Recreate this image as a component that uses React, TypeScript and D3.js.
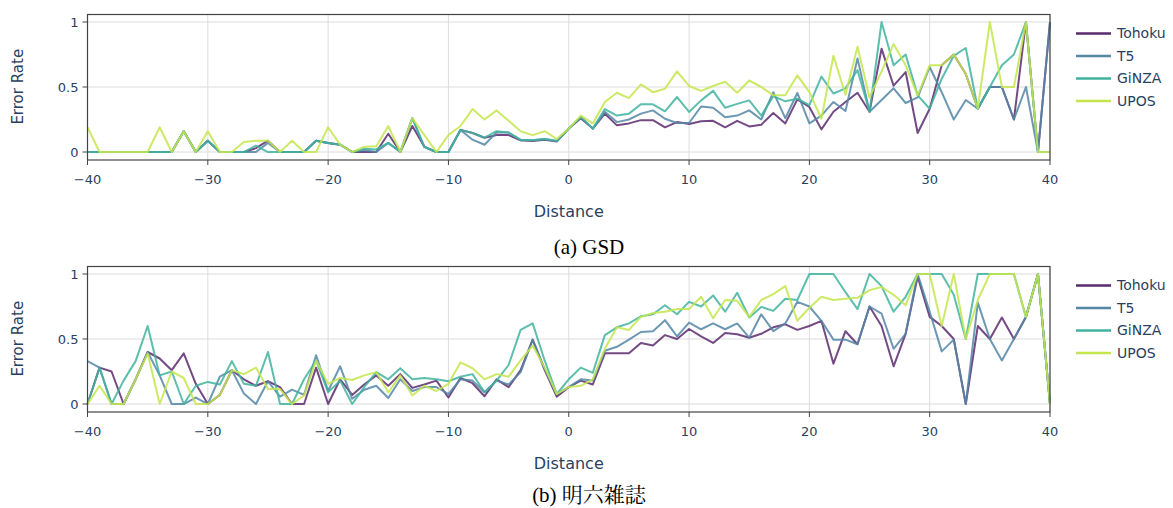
import React from "react"
import * as d3 from "d3"

// distance from the target word (x axis)
const distance = d3.range(-40, 41)
const seriesNames = ["Tohoku", "T5", "GiNZA", "UPOS"]
const seriesColors = ["#5a2a6e", "#5486a6", "#3fb39f", "#c4e64c"]
const yTicks = [0, 0.5, 1]
const xTicks = [-40, -30, -20, -10, 0, 10, 20, 30, 40]

// (a) GSD
const gsdTohoku = [
  0, 0, 0, 0, 0, 0, 0, 0, 0.16, 0, 0.087, 0, 0, 0, 0.03, 0.087, 0, 0, 0, 0.087, 0.07,
  0.056, 0, 0, 0, 0.14, 0, 0.2, 0.04, 0, 0, 0.17, 0.146, 0.11, 0.13, 0.13, 0.09, 0.085, 0.095, 0.08,
  0.18, 0.26, 0.18, 0.295, 0.205, 0.22, 0.245, 0.245, 0.19, 0.23, 0.215, 0.236, 0.24, 0.19, 0.24, 0.197, 0.21, 0.3, 0.22, 0.405, 0.346,
  0.174, 0.31, 0.385, 0.456, 0.31, 0.795, 0.51, 0.615, 0.146, 0.333, 0.667, 0.75, 0.6, 0.333, 0.5, 0.5, 0.25, 1, 0, 1,
]
const gsdT5 = [
  0, 0, 0, 0, 0, 0, 0, 0, 0.16, 0, 0.087, 0, 0, 0, 0, 0.07, 0, 0, 0, 0.087, 0.07,
  0.056, 0, 0.015, 0, 0.07, 0, 0.26, 0.04, 0, 0, 0.17, 0.095, 0.056, 0.15, 0.15, 0.09, 0.09, 0.1, 0.085,
  0.18, 0.27, 0.18, 0.31, 0.23, 0.25, 0.295, 0.32, 0.256, 0.223, 0.223, 0.35, 0.34, 0.267, 0.28, 0.32, 0.25, 0.46, 0.26, 0.454, 0.22,
  0.28, 0.385, 0.315, 0.72, 0.31, 0.4, 0.49, 0.377, 0.42, 0.654, 0.46, 0.25, 0.4, 0.333, 0.5, 0.5, 0.25, 0.5, 0, 1,
]
const gsdGinza = [
  0, 0, 0, 0, 0, 0, 0, 0, 0.16, 0, 0.087, 0, 0, 0, 0.05, 0, 0, 0, 0, 0.087, 0.07,
  0.056, 0, 0.025, 0.02, 0.07, 0, 0.26, 0.04, 0, 0, 0.17, 0.146, 0.11, 0.16, 0.15, 0.095, 0.09, 0.1, 0.085,
  0.18, 0.27, 0.18, 0.33, 0.28, 0.295, 0.367, 0.367, 0.313, 0.423, 0.308, 0.397, 0.47, 0.34, 0.37, 0.397, 0.28, 0.43, 0.39, 0.41, 0.36,
  0.58, 0.45, 0.49, 0.63, 0.31, 1, 0.667, 0.75, 0.436, 0.333, 0.564, 0.74, 0.8, 0.333, 0.5, 0.667, 0.75, 1, 0, 0,
]
const gsdUpos = [
  0.19, 0, 0, 0, 0, 0, 0.19, 0, 0.16, 0, 0.16, 0, 0, 0.077, 0.087, 0.087, 0, 0.087, 0, 0, 0.19,
  0.056, 0, 0.04, 0.045, 0.2, 0, 0.26, 0.13, 0, 0.13, 0.2, 0.33, 0.25, 0.32, 0.24, 0.16, 0.13, 0.16, 0.1,
  0.18, 0.28, 0.22, 0.385, 0.456, 0.415, 0.52, 0.46, 0.487, 0.62, 0.508, 0.47, 0.508, 0.54, 0.456, 0.55, 0.5, 0.436, 0.436, 0.59, 0.46,
  0.256, 0.74, 0.44, 0.81, 0.42, 0.62, 0.83, 0.667, 0.436, 0.667, 0.667, 0.75, 0.6, 0.333, 1, 0.5, 0.5, 1, 0, 0,
]

// (b) 明六雑誌
const meirokuTohoku = [
  0, 0.28, 0.25, 0, 0.19, 0.4, 0.35, 0.26, 0.39, 0.155, 0, 0.07, 0.26, 0.19, 0.14, 0.175, 0.13, 0, 0, 0.28, 0,
  0.19, 0.07, 0.15, 0.22, 0.14, 0.23, 0.124, 0.15, 0.18, 0.05, 0.2, 0.16, 0.06, 0.19, 0.13, 0.26, 0.495, 0.26, 0.057,
  0.13, 0.18, 0.15, 0.39, 0.39, 0.39, 0.47, 0.45, 0.53, 0.5, 0.577, 0.52, 0.47, 0.546, 0.536, 0.51, 0.54, 0.59, 0.613, 0.57, 0.6,
  0.64, 0.31, 0.56, 0.46, 0.75, 0.6, 0.29, 0.54, 0.98, 0.67, 0.6, 0.5, 0, 0.6, 0.5, 0.665, 0.5, 0.67, 1, 0,
]
const meirokuT5 = [
  0.33, 0.28, 0, 0, 0.19, 0.4, 0.22, 0, 0, 0.05, 0, 0.21, 0.26, 0.08, 0, 0.175, 0.057, 0.11, 0.07, 0.375, 0.1,
  0.29, 0.04, 0.11, 0.14, 0.046, 0.19, 0.1, 0.13, 0.13, 0.077, 0.19, 0.18, 0.09, 0.18, 0.15, 0.245, 0.495, 0.27, 0.077,
  0.13, 0.19, 0.18, 0.41, 0.44, 0.495, 0.554, 0.56, 0.645, 0.52, 0.626, 0.575, 0.62, 0.575, 0.62, 0.51, 0.69, 0.56, 0.62, 0.786, 0.75,
  0.64, 0.495, 0.495, 0.46, 0.75, 0.696, 0.425, 0.54, 1, 0.71, 0.405, 0.495, 0, 0.78, 0.5, 0.335, 0.5, 0.67, 1, 0,
]
const meirokuGinza = [
  0, 0.28, 0, 0.18, 0.33, 0.6, 0.22, 0.25, 0, 0.14, 0.17, 0.15, 0.33, 0.155, 0.14, 0.4, 0, 0, 0.19, 0.335, 0.09,
  0.18, 0, 0.13, 0.245, 0.19, 0.275, 0.19, 0.2, 0.19, 0.175, 0.21, 0.23, 0.09, 0.18, 0.3, 0.57, 0.62, 0.335, 0.077,
  0.19, 0.28, 0.24, 0.53, 0.59, 0.62, 0.675, 0.69, 0.76, 0.69, 0.786, 0.75, 0.835, 0.71, 0.856, 0.665, 0.747, 0.716, 0.81, 0.8, 1,
  1, 1, 0.86, 0.73, 1, 0.907, 0.71, 0.825, 1, 1, 1, 0.84, 0.5, 1, 1, 1, 1, 0.67, 1, 0,
]
const meirokuUpos = [
  0, 0.14, 0, 0, 0.19, 0.39, 0, 0.25, 0.2, 0, 0, 0.07, 0.26, 0.23, 0.28, 0.115, 0.115, 0, 0.065, 0.335, 0.155,
  0.2, 0.185, 0.22, 0.245, 0.09, 0.22, 0.065, 0.14, 0.1, 0.155, 0.32, 0.275, 0.19, 0.23, 0.21, 0.335, 0.45, 0.28, 0.077,
  0.13, 0.14, 0.19, 0.425, 0.59, 0.57, 0.67, 0.7, 0.71, 0.73, 0.73, 0.825, 0.66, 0.8, 0.794, 0.67, 0.8, 0.845, 0.907, 0.64, 0.74,
  0.825, 0.8, 0.81, 0.817, 0.876, 0.9, 0.84, 0.76, 1, 1, 0.6, 1, 0.5, 0.8, 1, 1, 1, 0.67, 1, 0,
]

const width = 1173
const height = 508
const left = 87.5
const right = 1050
const plotH = 145.5
const textColor = "#2a3f5f"
const font = "'DejaVu Sans', Verdana, sans-serif"

function Panel({ top, series, caption, captionY }) {
  const x = d3.scaleLinear().domain([-40, 40]).range([left, right])
  const y = d3.scaleLinear().domain([-0.0615, 1.0577]).range([top + plotH, top])
  const line = d3
    .line()
    .x((d, i) => x(distance[i]))
    .y(d => y(d))
  const bottom = top + plotH

  return (
    <g>
      {/* grid */}
      {xTicks.map(t => (
        <line key={"gx" + t} x1={x(t)} x2={x(t)} y1={top} y2={bottom} stroke="#dcdcdc" strokeWidth={1} />
      ))}
      {yTicks.map(t => (
        <line key={"gy" + t} x1={left} x2={right} y1={y(t)} y2={y(t)} stroke="#dcdcdc" strokeWidth={1} />
      ))}

      {/* the lines, UPOS drawn last */}
      {series.map((s, i) => (
        <path
          key={seriesNames[i]}
          d={line(s)}
          fill="none"
          stroke={seriesColors[i]}
          strokeWidth={2}
          strokeOpacity={0.85}
          strokeLinejoin="round"
        />
      ))}

      {/* frame */}
      <rect x={left} y={top} width={right - left} height={plotH} fill="none" stroke="#444" strokeWidth={1.2} />

      {/* y axis */}
      {yTicks.map(t => (
        <g key={"ty" + t}>
          <line x1={left - 5} x2={left} y1={y(t)} y2={y(t)} stroke="#444" />
          <text x={left - 9} y={y(t)} dy="0.35em" textAnchor="end" fontSize={13} fill={textColor} fontFamily={font}>
            {t}
          </text>
        </g>
      ))}
      <text
        transform={`translate(23,${(top + bottom) / 2 - 0.5}) rotate(-90)`}
        textAnchor="middle"
        fontSize={15}
        fill={textColor}
        fontFamily={font}
      >
        Error Rate
      </text>

      {/* x axis */}
      {xTicks.map(t => (
        <g key={"tx" + t}>
          <line x1={x(t)} x2={x(t)} y1={bottom} y2={bottom + 5} stroke="#444" />
          <text x={x(t)} y={bottom + 24} textAnchor="middle" fontSize={13} fill={textColor} fontFamily={font}>
            {t < 0 ? "\u2212" + Math.abs(t) : t}
          </text>
        </g>
      ))}
      <text x={(left + right) / 2} y={bottom + 56.5} textAnchor="middle" fontSize={16} fill={textColor} fontFamily={font}>
        Distance
      </text>

      {/* legend */}
      {seriesNames.map((name, i) => (
        <g key={"lg" + name} transform={`translate(1076,${top + 19 + i * 22.5})`}>
          <line x1={0} x2={35} y1={0} y2={0} stroke={seriesColors[i]} strokeWidth={2.5} />
          <text x={41} y={0} dy="0.35em" fontSize={14} fill={textColor} fontFamily={font}>
            {name}
          </text>
        </g>
      ))}

      <text
        x={589}
        y={captionY}
        textAnchor="middle"
        fontSize={21}
        fill="#000"
        fontFamily="'Liberation Serif', 'Noto Serif CJK JP', 'Noto Sans CJK JP', serif"
      >
        {caption}
      </text>
    </g>
  )
}

export default function App() {
  return (
    <svg
      width={width}
      height={height}
      style={{ position: "absolute", left: 0, top: 0, background: "#fff" }}
    >
      <Panel top={14.5} series={[gsdTohoku, gsdT5, gsdGinza, gsdUpos]} caption="(a) GSD" captionY={254} />
      <Panel
        top={266.5}
        series={[meirokuTohoku, meirokuT5, meirokuGinza, meirokuUpos]}
        caption="(b) 明六雑誌"
        captionY={502}
      />
    </svg>
  )
}
